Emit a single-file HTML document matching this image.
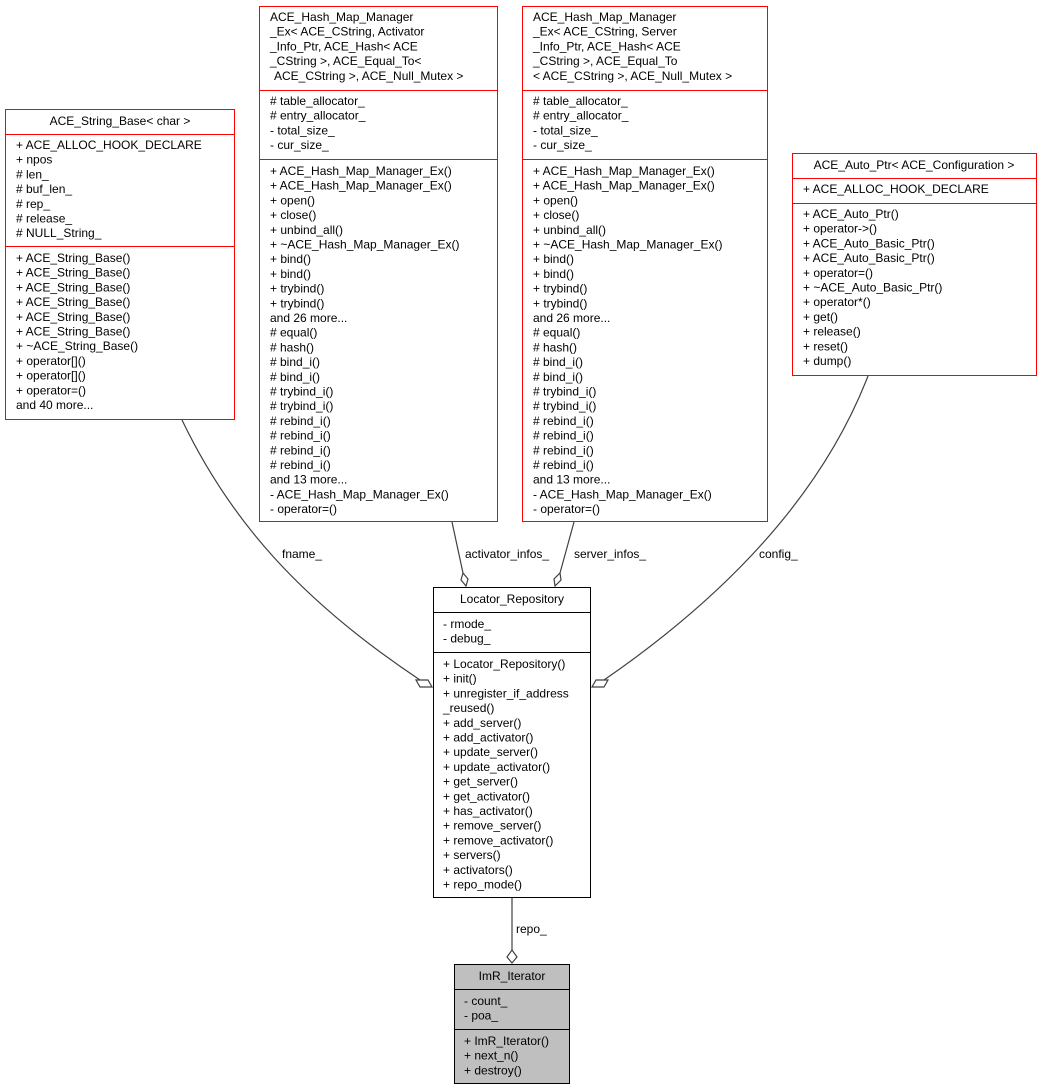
<!DOCTYPE html>
<html><head><meta charset="utf-8"><style>
html,body{margin:0;padding:0;background:#fff;}
svg{display:block;}
text{font-family:"Liberation Sans",Helvetica,Arial,sans-serif;font-size:12px;fill:#000;}
</style></head><body>
<svg width="1041" height="1091" viewBox="0 0 1041 1091" xmlns="http://www.w3.org/2000/svg">
<!-- edges -->
<g fill="none" stroke="#404040" stroke-width="1.2">
<path d="M182,420 C230,520 300,600 420,680"/>
<path d="M452,522 L463,573"/>
<path d="M574,522 L560,573"/>
<path d="M868,376 C820,500 720,600 604,680"/>
<path d="M512,898 L512,950"/>
</g>
<g fill="#fff" stroke="#404040" stroke-width="1.2">
<polygon points="432,687 420,687 416,680 428,680"/>
<polygon points="466,586 461,580 463,573 468,579"/>
<polygon points="555,586 554,579 560,573 561,580"/>
<polygon points="592,687 604,687 608,680 596,680"/>
<polygon points="512,963 507,957 512,950 517,957"/>
</g>
<text x="282" y="558">fname_</text>
<text x="465" y="558">activator_infos_</text>
<text x="574" y="558">server_infos_</text>
<text x="759" y="558">config_</text>
<text x="516" y="933">repo_</text>

<!-- ACE_String_Base -->
<g fill="#fff" stroke="#ff0000" stroke-width="1">
<rect x="5.5" y="109.5" width="229" height="310"/>
<line x1="5.5" y1="134.5" x2="234.5" y2="134.5"/>
<line x1="5.5" y1="246.5" x2="234.5" y2="246.5"/>
</g>
<text x="120" y="125" text-anchor="middle">ACE_String_Base&lt; char &gt;</text>
<text x="16" y="149"><tspan x="16">+ ACE_ALLOC_HOOK_DECLARE</tspan><tspan x="16" dy="14.7">+ npos</tspan><tspan x="16" dy="14.7"># len_</tspan><tspan x="16" dy="14.7"># buf_len_</tspan><tspan x="16" dy="14.7"># rep_</tspan><tspan x="16" dy="14.7"># release_</tspan><tspan x="16" dy="14.7"># NULL_String_</tspan></text>
<text x="16" y="262"><tspan x="16">+ ACE_String_Base()</tspan><tspan x="16" dy="14.7">+ ACE_String_Base()</tspan><tspan x="16" dy="14.7">+ ACE_String_Base()</tspan><tspan x="16" dy="14.7">+ ACE_String_Base()</tspan><tspan x="16" dy="14.7">+ ACE_String_Base()</tspan><tspan x="16" dy="14.7">+ ACE_String_Base()</tspan><tspan x="16" dy="14.7">+ ~ACE_String_Base()</tspan><tspan x="16" dy="14.7">+ operator[]()</tspan><tspan x="16" dy="14.7">+ operator[]()</tspan><tspan x="16" dy="14.7">+ operator=()</tspan><tspan x="16" dy="14.7">and 40 more...</tspan></text>

<!-- Hash 1 -->
<g fill="#fff" stroke="#ff0000" stroke-width="1">
<rect x="259.5" y="6.5" width="238" height="515"/>
<line x1="259.5" y1="90.5" x2="497.5" y2="90.5"/>
<line x1="259.5" y1="159.5" x2="497.5" y2="159.5"/>
</g>
<text x="270" y="21"><tspan x="270">ACE_Hash_Map_Manager</tspan><tspan x="270" dy="14.7">_Ex&lt; ACE_CString, Activator</tspan><tspan x="270" dy="14.7">_Info_Ptr, ACE_Hash&lt; ACE</tspan><tspan x="270" dy="14.7">_CString &gt;, ACE_Equal_To&lt;</tspan><tspan x="274" dy="14.7">ACE_CString &gt;, ACE_Null_Mutex &gt;</tspan></text>
<text x="270" y="105"><tspan x="270"># table_allocator_</tspan><tspan x="270" dy="14.7"># entry_allocator_</tspan><tspan x="270" dy="14.7">- total_size_</tspan><tspan x="270" dy="14.7">- cur_size_</tspan></text>
<text x="270" y="175"><tspan x="270">+ ACE_Hash_Map_Manager_Ex()</tspan><tspan x="270" dy="14.7">+ ACE_Hash_Map_Manager_Ex()</tspan><tspan x="270" dy="14.7">+ open()</tspan><tspan x="270" dy="14.7">+ close()</tspan><tspan x="270" dy="14.7">+ unbind_all()</tspan><tspan x="270" dy="14.7">+ ~ACE_Hash_Map_Manager_Ex()</tspan><tspan x="270" dy="14.7">+ bind()</tspan><tspan x="270" dy="14.7">+ bind()</tspan><tspan x="270" dy="14.7">+ trybind()</tspan><tspan x="270" dy="14.7">+ trybind()</tspan><tspan x="270" dy="14.7">and 26 more...</tspan><tspan x="270" dy="14.7"># equal()</tspan><tspan x="270" dy="14.7"># hash()</tspan><tspan x="270" dy="14.7"># bind_i()</tspan><tspan x="270" dy="14.7"># bind_i()</tspan><tspan x="270" dy="14.7"># trybind_i()</tspan><tspan x="270" dy="14.7"># trybind_i()</tspan><tspan x="270" dy="14.7"># rebind_i()</tspan><tspan x="270" dy="14.7"># rebind_i()</tspan><tspan x="270" dy="14.7"># rebind_i()</tspan><tspan x="270" dy="14.7"># rebind_i()</tspan><tspan x="270" dy="14.7">and 13 more...</tspan><tspan x="270" dy="14.7">- ACE_Hash_Map_Manager_Ex()</tspan><tspan x="270" dy="14.7">- operator=()</tspan></text>

<!-- Hash 2 -->
<g fill="#fff" stroke="#ff0000" stroke-width="1">
<rect x="522.5" y="6.5" width="245" height="515"/>
<line x1="522.5" y1="90.5" x2="767.5" y2="90.5"/>
<line x1="522.5" y1="159.5" x2="767.5" y2="159.5"/>
</g>
<text x="533" y="21"><tspan x="533">ACE_Hash_Map_Manager</tspan><tspan x="533" dy="14.7">_Ex&lt; ACE_CString, Server</tspan><tspan x="533" dy="14.7">_Info_Ptr, ACE_Hash&lt; ACE</tspan><tspan x="533" dy="14.7">_CString &gt;, ACE_Equal_To</tspan><tspan x="533" dy="14.7">&lt; ACE_CString &gt;, ACE_Null_Mutex &gt;</tspan></text>
<text x="533" y="105"><tspan x="533"># table_allocator_</tspan><tspan x="533" dy="14.7"># entry_allocator_</tspan><tspan x="533" dy="14.7">- total_size_</tspan><tspan x="533" dy="14.7">- cur_size_</tspan></text>
<text x="533" y="175"><tspan x="533">+ ACE_Hash_Map_Manager_Ex()</tspan><tspan x="533" dy="14.7">+ ACE_Hash_Map_Manager_Ex()</tspan><tspan x="533" dy="14.7">+ open()</tspan><tspan x="533" dy="14.7">+ close()</tspan><tspan x="533" dy="14.7">+ unbind_all()</tspan><tspan x="533" dy="14.7">+ ~ACE_Hash_Map_Manager_Ex()</tspan><tspan x="533" dy="14.7">+ bind()</tspan><tspan x="533" dy="14.7">+ bind()</tspan><tspan x="533" dy="14.7">+ trybind()</tspan><tspan x="533" dy="14.7">+ trybind()</tspan><tspan x="533" dy="14.7">and 26 more...</tspan><tspan x="533" dy="14.7"># equal()</tspan><tspan x="533" dy="14.7"># hash()</tspan><tspan x="533" dy="14.7"># bind_i()</tspan><tspan x="533" dy="14.7"># bind_i()</tspan><tspan x="533" dy="14.7"># trybind_i()</tspan><tspan x="533" dy="14.7"># trybind_i()</tspan><tspan x="533" dy="14.7"># rebind_i()</tspan><tspan x="533" dy="14.7"># rebind_i()</tspan><tspan x="533" dy="14.7"># rebind_i()</tspan><tspan x="533" dy="14.7"># rebind_i()</tspan><tspan x="533" dy="14.7">and 13 more...</tspan><tspan x="533" dy="14.7">- ACE_Hash_Map_Manager_Ex()</tspan><tspan x="533" dy="14.7">- operator=()</tspan></text>

<!-- Auto_Ptr -->
<g fill="#fff" stroke="#ff0000" stroke-width="1">
<rect x="792.5" y="153.5" width="244" height="222"/>
<line x1="792.5" y1="178.5" x2="1036.5" y2="178.5"/>
<line x1="792.5" y1="203.5" x2="1036.5" y2="203.5"/>
</g>
<text x="914" y="169" text-anchor="middle">ACE_Auto_Ptr&lt; ACE_Configuration &gt;</text>
<text x="803" y="193">+ ACE_ALLOC_HOOK_DECLARE</text>
<text x="803" y="218"><tspan x="803">+ ACE_Auto_Ptr()</tspan><tspan x="803" dy="14.7">+ operator-&gt;()</tspan><tspan x="803" dy="14.7">+ ACE_Auto_Basic_Ptr()</tspan><tspan x="803" dy="14.7">+ ACE_Auto_Basic_Ptr()</tspan><tspan x="803" dy="14.7">+ operator=()</tspan><tspan x="803" dy="14.7">+ ~ACE_Auto_Basic_Ptr()</tspan><tspan x="803" dy="14.7">+ operator*()</tspan><tspan x="803" dy="14.7">+ get()</tspan><tspan x="803" dy="14.7">+ release()</tspan><tspan x="803" dy="14.7">+ reset()</tspan><tspan x="803" dy="14.7">+ dump()</tspan></text>

<!-- Locator_Repository -->
<g fill="#fff" stroke="#000" stroke-width="1">
<rect x="433.5" y="587.5" width="157" height="310"/>
<line x1="433.5" y1="612.5" x2="590.5" y2="612.5"/>
<line x1="433.5" y1="652.5" x2="590.5" y2="652.5"/>
</g>
<text x="512" y="603" text-anchor="middle">Locator_Repository</text>
<text x="443" y="628"><tspan x="443">- rmode_</tspan><tspan x="443" dy="14.7">- debug_</tspan></text>
<text x="443" y="668"><tspan x="443">+ Locator_Repository()</tspan><tspan x="443" dy="14.7">+ init()</tspan><tspan x="443" dy="14.7">+ unregister_if_address</tspan><tspan x="443" dy="14.7">_reused()</tspan><tspan x="443" dy="14.7">+ add_server()</tspan><tspan x="443" dy="14.7">+ add_activator()</tspan><tspan x="443" dy="14.7">+ update_server()</tspan><tspan x="443" dy="14.7">+ update_activator()</tspan><tspan x="443" dy="14.7">+ get_server()</tspan><tspan x="443" dy="14.7">+ get_activator()</tspan><tspan x="443" dy="14.7">+ has_activator()</tspan><tspan x="443" dy="14.7">+ remove_server()</tspan><tspan x="443" dy="14.7">+ remove_activator()</tspan><tspan x="443" dy="14.7">+ servers()</tspan><tspan x="443" dy="14.7">+ activators()</tspan><tspan x="443" dy="14.7">+ repo_mode()</tspan></text>

<!-- ImR_Iterator -->
<g fill="#bfbfbf" stroke="#000" stroke-width="1">
<rect x="454.5" y="964.5" width="115" height="119"/>
<line x1="454.5" y1="989.5" x2="569.5" y2="989.5"/>
<line x1="454.5" y1="1029.5" x2="569.5" y2="1029.5"/>
</g>
<text x="512" y="980" text-anchor="middle">ImR_Iterator</text>
<text x="464" y="1005"><tspan x="464">- count_</tspan><tspan x="464" dy="14.7">- poa_</tspan></text>
<text x="464" y="1045"><tspan x="464">+ ImR_Iterator()</tspan><tspan x="464" dy="14.7">+ next_n()</tspan><tspan x="464" dy="14.7">+ destroy()</tspan></text>
</svg>
</body></html>
